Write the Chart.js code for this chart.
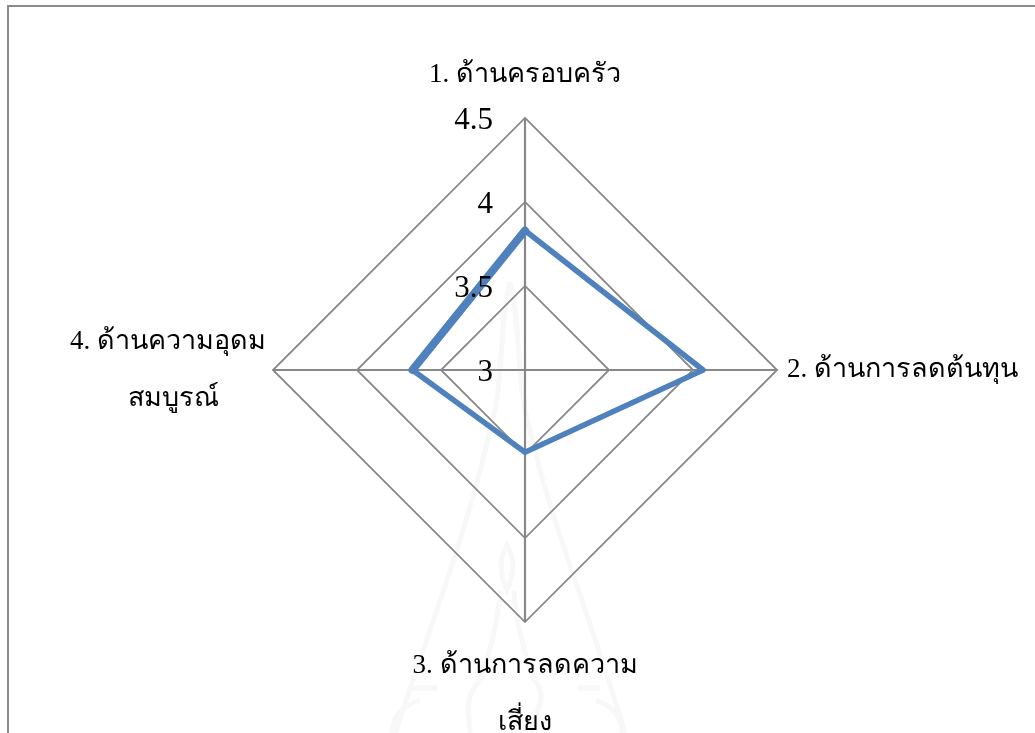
<!DOCTYPE html>
<html><head><meta charset="utf-8">
<style>
html,body{margin:0;padding:0;width:1035px;height:733px;overflow:hidden;background:#fff}
#frame{position:absolute;left:7px;top:5px;width:1040px;height:760px;border:2px solid #8a8a8a;box-sizing:border-box}
#mark{position:absolute;left:0;top:0;width:1035px;height:733px}
#wrap{position:absolute;left:-100px;top:0;width:1250px;height:779px}
</style>
<script src="https://cdn.jsdelivr.net/npm/chart.js@4/dist/chart.umd.min.js"></script>
</head><body>
<div id="frame"></div>
<svg id="mark" viewBox="0 0 1035 733" fill="none" stroke="#f8f8f8" stroke-width="5">
  <path d="M510 282 C498 330 505 380 490 430 C470 520 440 600 395 733"/>
  <path d="M510 282 C522 330 515 380 530 430 C550 520 585 600 625 733"/>
  <path d="M507 545 C498 560 500 575 507 590 C514 575 516 560 507 545 Z"/>
  <path d="M500 590 C498 625 490 650 480 680 M514 590 C516 625 524 650 534 680"/>
  <path d="M480 680 C462 700 470 715 470 733 M534 680 C552 700 530 715 532 733"/>
  <path d="M410 688 H437 M577 688 H600 M392 733 C392 715 405 705 420 700 M622 733 C622 715 610 705 596 700"/>
</svg>
<div id="wrap"><canvas id="c"></canvas></div>
<script>
const categories = [
  '1. ด้านครอบครัว',
  '2. ด้านการลดต้นทุน',
  ['3. ด้านการลดความ','เสี่ยง'],
  ['4. ด้านความอุดม','สมบูรณ์\u00A0\u00A0\u00A0\u00A0\u00A0\u00A0\u00A0']
];
const seriesValues = [3.83, 4.06, 3.49, 3.67];
const heavyEdgeValues = [3.83, null, null, 3.67];
const tickValues = [3, 3.5, 4, 4.5];
const FONT = '"Liberation Serif","Noto Sans","DejaVu Sans",serif';

const tickLabelPlugin = {
  id: 'tickLabelPlugin',
  afterDatasetsDraw(chart) {
    const r = chart.scales.r, ctx = chart.ctx;
    ctx.save();
    ctx.font = '31px ' + FONT;
    ctx.fillStyle = '#000';
    ctx.textAlign = 'right';
    ctx.textBaseline = 'middle';
    r.ticks.forEach(t => {
      const p = r.getPointPositionForValue(0, t.value);
      ctx.fillText(t.label, p.x - 32, p.y + 3);
    });
    ctx.restore();
  }
};

const lineStyle = {
  borderColor: '#4f81bd',
  backgroundColor: 'rgba(0,0,0,0)',
  borderJoinStyle: 'round',
  pointRadius: 0,
  pointHoverRadius: 0,
  fill: false,
  tension: 0
};

new Chart(document.getElementById('c'), {
  type: 'radar',
  plugins: [tickLabelPlugin],
  data: {
    labels: categories,
    datasets: [
      Object.assign({ data: seriesValues, borderWidth: 5.5 }, lineStyle),
      Object.assign({ data: heavyEdgeValues, borderWidth: 8, borderCapStyle: 'round', spanGaps: false }, lineStyle)
    ]
  },
  options: {
    responsive: true,
    maintainAspectRatio: false,
    animation: false,
    events: [],
    layout: { padding: { left: 0, right: 0, top: 18, bottom: 0 } },
    plugins: { legend: { display: false }, tooltip: { enabled: false }, title: { display: false } },
    scales: {
      r: {
        min: tickValues[0],
        max: tickValues[tickValues.length - 1],
        ticks: { display: false, stepSize: 0.5, callback: v => String(v) },
        grid: { color: '#888888', lineWidth: 1.8 },
        angleLines: { color: '#888888', lineWidth: 2.2 },
        pointLabels: {
          color: '#000',
          padding: ctx => [15, 10, 15, 7][ctx.index],
          font: { family: FONT, size: 27, lineHeight: 2.11 }
        }
      }
    }
  }
});
</script>
</body></html>
